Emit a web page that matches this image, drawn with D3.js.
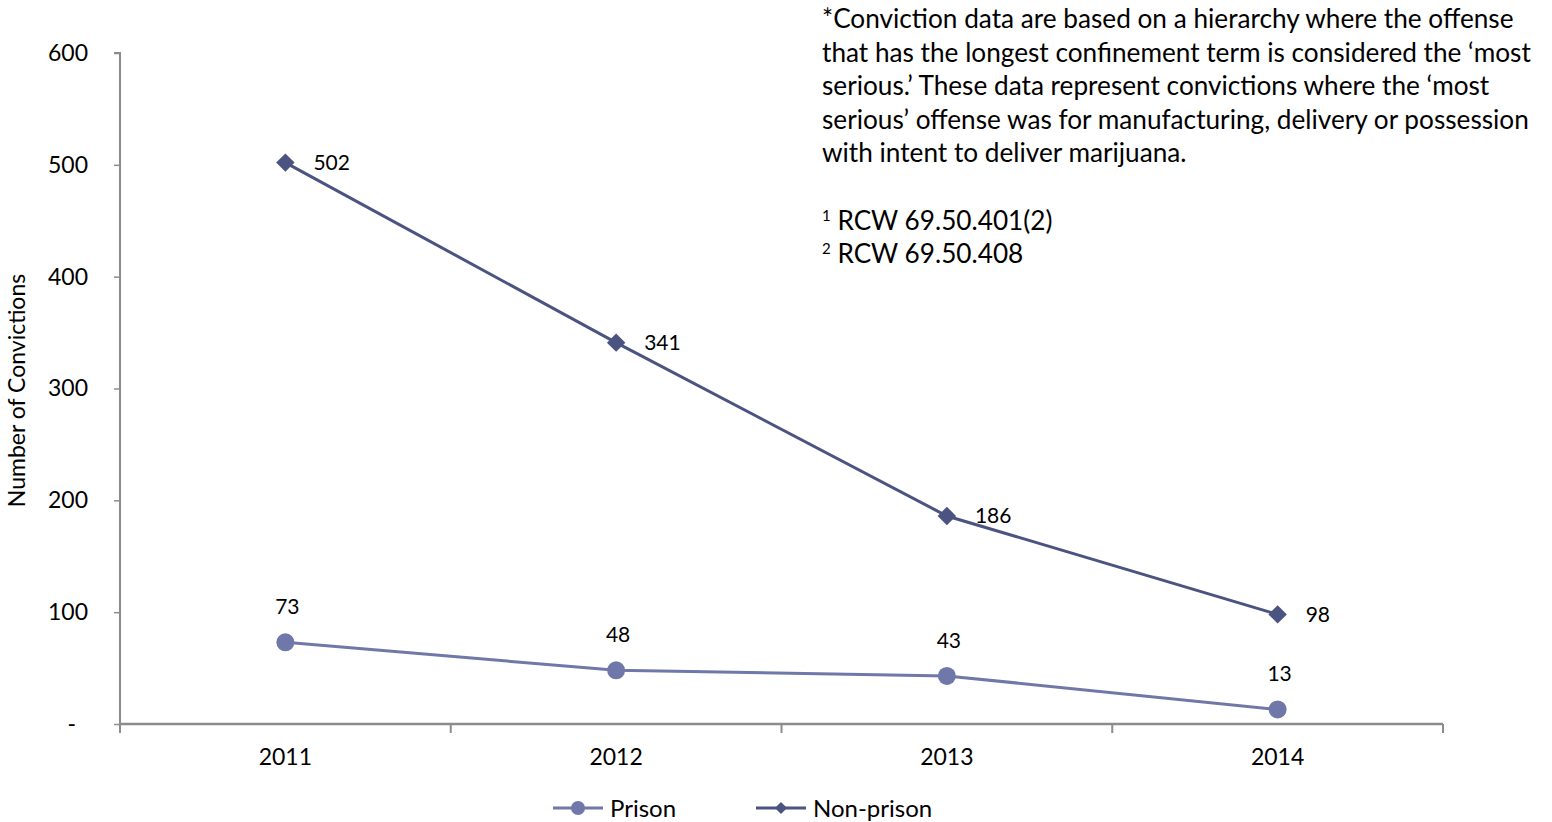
<!DOCTYPE html>
<html>
<head>
<meta charset="utf-8">
<script src="https://cdn.jsdelivr.net/npm/d3@7"></script>
<style>
  html, body { margin: 0; padding: 0; background: #fff; }
  svg { display: block; font-family: Lato, "Open Sans", sans-serif; }
</style>
</head>
<body>
<svg id="chart" width="1552" height="822"></svg>
<script>
// Marijuana delivery convictions by year
const years = ["2011", "2012", "2013", "2014"];
const prison = [73, 48, 43, 13];
const nonPrison = [502, 341, 186, 98];
const yTicks = [0, 100, 200, 300, 400, 500, 600];
const seriesNames = ["Prison", "Non-prison"];
const noteLines = [
  "*Conviction data are based on a hierarchy where the offense",
  "that has the longest confinement term is considered the \u2018most",
  "serious.\u2019 These data represent convictions where the \u2018most",
  "serious\u2019 offense was for manufacturing, delivery or possession",
  "with intent to deliver marijuana.",
  "",
  ["1", " RCW 69.50.401(2)"],
  ["2", " RCW 69.50.408"]
];

const svg = d3.select("#chart");
const plotLeft = 120, plotRight = 1443, plotTop = 53, plotBottom = 724;
const axisColor = "#8c8c8c";
const prisonColor = "#6f78a8";
const nonPrisonColor = "#4b5380";

const x = d3.scaleBand().domain(years).range([plotLeft, plotRight]).paddingInner(0).paddingOuter(0);
const y = d3.scaleLinear().domain([0, 600]).range([plotBottom, plotTop]);
const cx = d => x(d) + x.bandwidth() / 2;

// Y axis
const yAxis = svg.append("g")
  .attr("transform", `translate(${plotLeft},0)`)
  .call(d3.axisLeft(y).tickValues(yTicks).tickSize(6).tickPadding(26)
    .tickFormat(d => d === 0 ? "-" : d3.format("d")(d)));
yAxis.select(".domain").attr("stroke", axisColor).attr("stroke-width", 2)
  .attr("d", `M-6,${plotTop}H0V${plotBottom}`);
yAxis.selectAll(".tick line").attr("stroke", axisColor).attr("stroke-width", 1.5);
yAxis.selectAll(".tick text").attr("font-size", 23).attr("fill", "#000")
  .attr("font-family", "Lato, sans-serif")
  .attr("dx", d => d === 0 ? -12 : 0);

// X axis: ticks at category boundaries
const xAxis = svg.append("g").attr("transform", `translate(0,${plotBottom})`);
xAxis.append("line").attr("x1", plotLeft).attr("x2", plotRight).attr("stroke", axisColor).attr("stroke-width", 2.5);
const boundaries = years.map(d => x(d)).concat([plotRight]);
xAxis.selectAll("line.tk").data(boundaries).join("line").attr("class", "tk")
  .attr("x1", d => d).attr("x2", d => d).attr("y1", 0).attr("y2", 9)
  .attr("stroke", axisColor).attr("stroke-width", 2);
xAxis.selectAll("text").data(years).join("text")
  .attr("x", d => cx(d)).attr("y", 41).attr("text-anchor", "middle")
  .attr("font-size", 23).text(d => d);

// Y axis title
svg.append("text")
  .attr("transform", `translate(25,${(plotTop + plotBottom) / 2 + 2}) rotate(-90)`)
  .attr("text-anchor", "middle").attr("font-size", 23).text("Number of Convictions");

const line = d3.line().x(d => cx(d.year)).y(d => y(d.value));
const prisonData = years.map((yr, i) => ({ year: yr, value: prison[i] }));
const nonPrisonData = years.map((yr, i) => ({ year: yr, value: nonPrison[i] }));

// Non-prison series
svg.append("path").datum(nonPrisonData).attr("d", line)
  .attr("fill", "none").attr("stroke", nonPrisonColor).attr("stroke-width", 3);
svg.selectAll("path.np").data(nonPrisonData).join("path").attr("class", "np")
  .attr("d", d3.symbol().type(d3.symbolSquare).size(170))
  .attr("transform", d => `translate(${cx(d.year)},${y(d.value)}) rotate(45)`)
  .attr("fill", nonPrisonColor);
svg.selectAll("text.npl").data(nonPrisonData).join("text").attr("class", "npl")
  .attr("x", d => cx(d.year) + 28).attr("y", d => y(d.value) + 7.5)
  .attr("font-size", 21).text(d => d.value);

// Prison series
svg.append("path").datum(prisonData).attr("d", line)
  .attr("fill", "none").attr("stroke", prisonColor).attr("stroke-width", 3);
svg.selectAll("circle.p").data(prisonData).join("circle").attr("class", "p")
  .attr("cx", d => cx(d.year)).attr("cy", d => y(d.value)).attr("r", 9)
  .attr("fill", prisonColor);
svg.selectAll("text.pl").data(prisonData).join("text").attr("class", "pl")
  .attr("x", d => cx(d.year) + 2).attr("y", d => y(d.value) - 28)
  .attr("text-anchor", "middle").attr("font-size", 21).text(d => d.value);

// Legend
const legend = svg.append("g").attr("transform", "translate(0,808)");
const legendItems = [
  { name: seriesNames[0], color: prisonColor, x0: 553, marker: "circle" },
  { name: seriesNames[1], color: nonPrisonColor, x0: 756, marker: "diamond" }
];
legendItems.forEach(it => {
  legend.append("line").attr("x1", it.x0).attr("x2", it.x0 + 50)
    .attr("stroke", it.color).attr("stroke-width", 3);
  if (it.marker === "circle") {
    legend.append("circle").attr("cx", it.x0 + 25).attr("r", 7).attr("fill", it.color);
  } else {
    legend.append("path").attr("d", d3.symbol().type(d3.symbolSquare).size(72))
      .attr("transform", `translate(${it.x0 + 25},0) rotate(45)`).attr("fill", it.color);
  }
  legend.append("text").attr("x", it.x0 + 57).attr("y", 8.5).attr("font-size", 24).text(it.name);
});

// Explanatory note
const note = svg.append("g").attr("font-size", 26.2);
noteLines.forEach((ln, i) => {
  const t = note.append("text").attr("x", 822).attr("y", 28 + i * 33.6);
  if (Array.isArray(ln)) {
    t.append("tspan").attr("font-size", 15).attr("dy", -9).text(ln[0]);
    t.append("tspan").attr("dy", 9).text(ln[1]);
  } else {
    t.text(ln);
  }
});
</script>
</body>
</html>
